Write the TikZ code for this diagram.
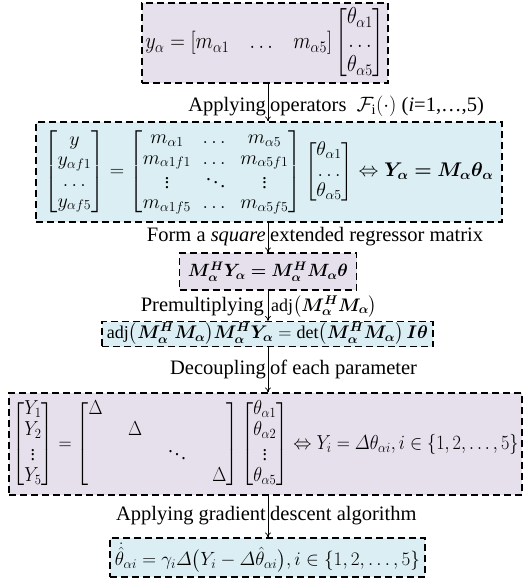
\documentclass[tikz,border=0pt]{standalone}
\usepackage{amsmath,amssymb,bm}
\usepackage{graphicx}
\usepackage{fontspec}
\setmainfont{Liberation Serif}
\usetikzlibrary{arrows.meta}
\definecolor{lav}{HTML}{E5E0EC}
\definecolor{aqua}{HTML}{DAEEF3}
\begin{document}
\begin{tikzpicture}[x=1pt,y=-1pt,
  font=\fontsize{20.5}{24}\selectfont,
  box/.style={draw, line width=1.2pt, dash pattern=on 7pt off 4pt, inner sep=0pt,
              font=\fontsize{17}{20}\selectfont},
  arr/.style={-{To[length=5pt,width=6pt]}, line width=0.8pt},
  lbl/.style={inner sep=0pt}]
\useasboundingbox (0,0) rectangle (525,587);
\renewcommand{\arraystretch}{0.9}
\coordinate (ax) at (268,0);
% boxes
\node[box, fill=lav, minimum width=246pt, minimum height=80pt] (b1) at (265,43)
  {\resizebox*{239pt}{72pt}{$y_\alpha=[m_{\alpha1}\;\;\;\dots\;\;\;m_{\alpha5}]\begin{bmatrix}\theta_{\alpha1}\\ \dots\\ \theta_{\alpha5}\end{bmatrix}$}};
\node[box, fill=aqua, minimum width=466pt, minimum height=100pt] (b2) at (269,172)
  {\resizebox*{449pt}{86pt}{$\begin{bmatrix}y\\ y_{\alpha f1}\\ \dots\\ y_{\alpha f5}\end{bmatrix}=
   {\setlength{\arraycolsep}{5pt}\begin{bmatrix}m_{\alpha1}&\dots&m_{\alpha5}\\ m_{\alpha1f1}&\dots&m_{\alpha5f1}\\ \vdots&\ddots&\vdots\\ m_{\alpha1f5}&\dots&m_{\alpha5f5}\end{bmatrix}}
   \begin{bmatrix}\theta_{\alpha1}\\ \dots\\ \theta_{\alpha5}\end{bmatrix}\Leftrightarrow \bm{Y_\alpha=M_\alpha\theta_\alpha}$}};
\node[box, fill=lav, minimum width=177pt, minimum height=37pt] (b3) at (268,271.5)
  {\resizebox{160pt}{!}{$\bm{M_\alpha^H Y_\alpha = M_\alpha^H M_\alpha\theta}$}};
\node[box, fill=aqua, minimum width=331pt, minimum height=25pt] (b4) at (267.5,334)
  {\resizebox{321pt}{!}{$\operatorname{adj}\bigl(\bm{M_\alpha^H M_\alpha}\bigr)\bm{M_\alpha^H Y_\alpha}=\det\bigl(\bm{M_\alpha^H M_\alpha}\bigr)\,\bm{I\theta}$}};
\node[box, fill=lav, minimum width=513pt, minimum height=102pt] (b5) at (265.5,444)
  {\resizebox*{506pt}{88pt}{$\begin{bmatrix}Y_1\\ Y_2\\ \vdots\\ Y_5\end{bmatrix}=
   {\setlength{\arraycolsep}{12pt}\begin{bmatrix}\Delta&&&\\ &\Delta&&\\ &&\ddots&\\ &&&\Delta\end{bmatrix}}
   \begin{bmatrix}\theta_{\alpha1}\\ \theta_{\alpha2}\\ \vdots\\ \theta_{\alpha5}\end{bmatrix}\Leftrightarrow Y_i=\varDelta\theta_{\alpha i}, i\in\{1,2,\dots,5\}$}};
\node[box, fill=aqua, minimum width=315pt, minimum height=39pt] (b6) at (267.5,557.5)
  {\resizebox{305pt}{!}{$\dot{\hat{\theta}}_{\alpha i}=\gamma_i\varDelta\bigl(Y_i-\varDelta\hat{\theta}_{\alpha i}\bigr), i\in\{1,2,\dots,5\}$}};
% arrows
\draw[arr] (b1.south -| ax) -- (b2.north -| ax);
\draw[arr] (b2.south -| ax) -- (b3.north -| ax);
\draw[arr] (b3.south -| ax) -- (b4.north -| ax);
\draw[arr] (b4.south -| ax) -- (b5.north -| ax);
\draw[arr] (b5.south -| ax) -- (b6.north -| ax);
% labels
\node[lbl, anchor=base east] (l1a) at (266,111) {Applying};
\node[lbl, anchor=base west] (l1b) at (270,111) {operators \ $\mathcal{F}_{\mathrm{i}}(\cdot)$ (\textit{i}=1,…,5)};
\node[lbl, anchor=base east] (l2a) at (266,241) {Form a \textit{square}};
\node[lbl, anchor=base west] (l2b) at (270,241) {extended regressor matrix};
\node[lbl, anchor=base east] (l3a) at (264,311) {Premultiplying};
\node[lbl, anchor=base west] (l3b) at (271,311) {\resizebox{106pt}{!}{$\operatorname{adj}\bigl(\bm{M_\alpha^H M_\alpha}\bigr)$}};
\node[lbl, anchor=base east] (l4a) at (266,374) {Decoupling};
\node[lbl, anchor=base west] (l4b) at (270,374) {of each parameter};
\node[lbl, anchor=base east] (l5a) at (266,520) {Applying gradient};
\node[lbl, anchor=base west] (l5b) at (270,520) {descent algorithm};
\end{tikzpicture}
\end{document}
